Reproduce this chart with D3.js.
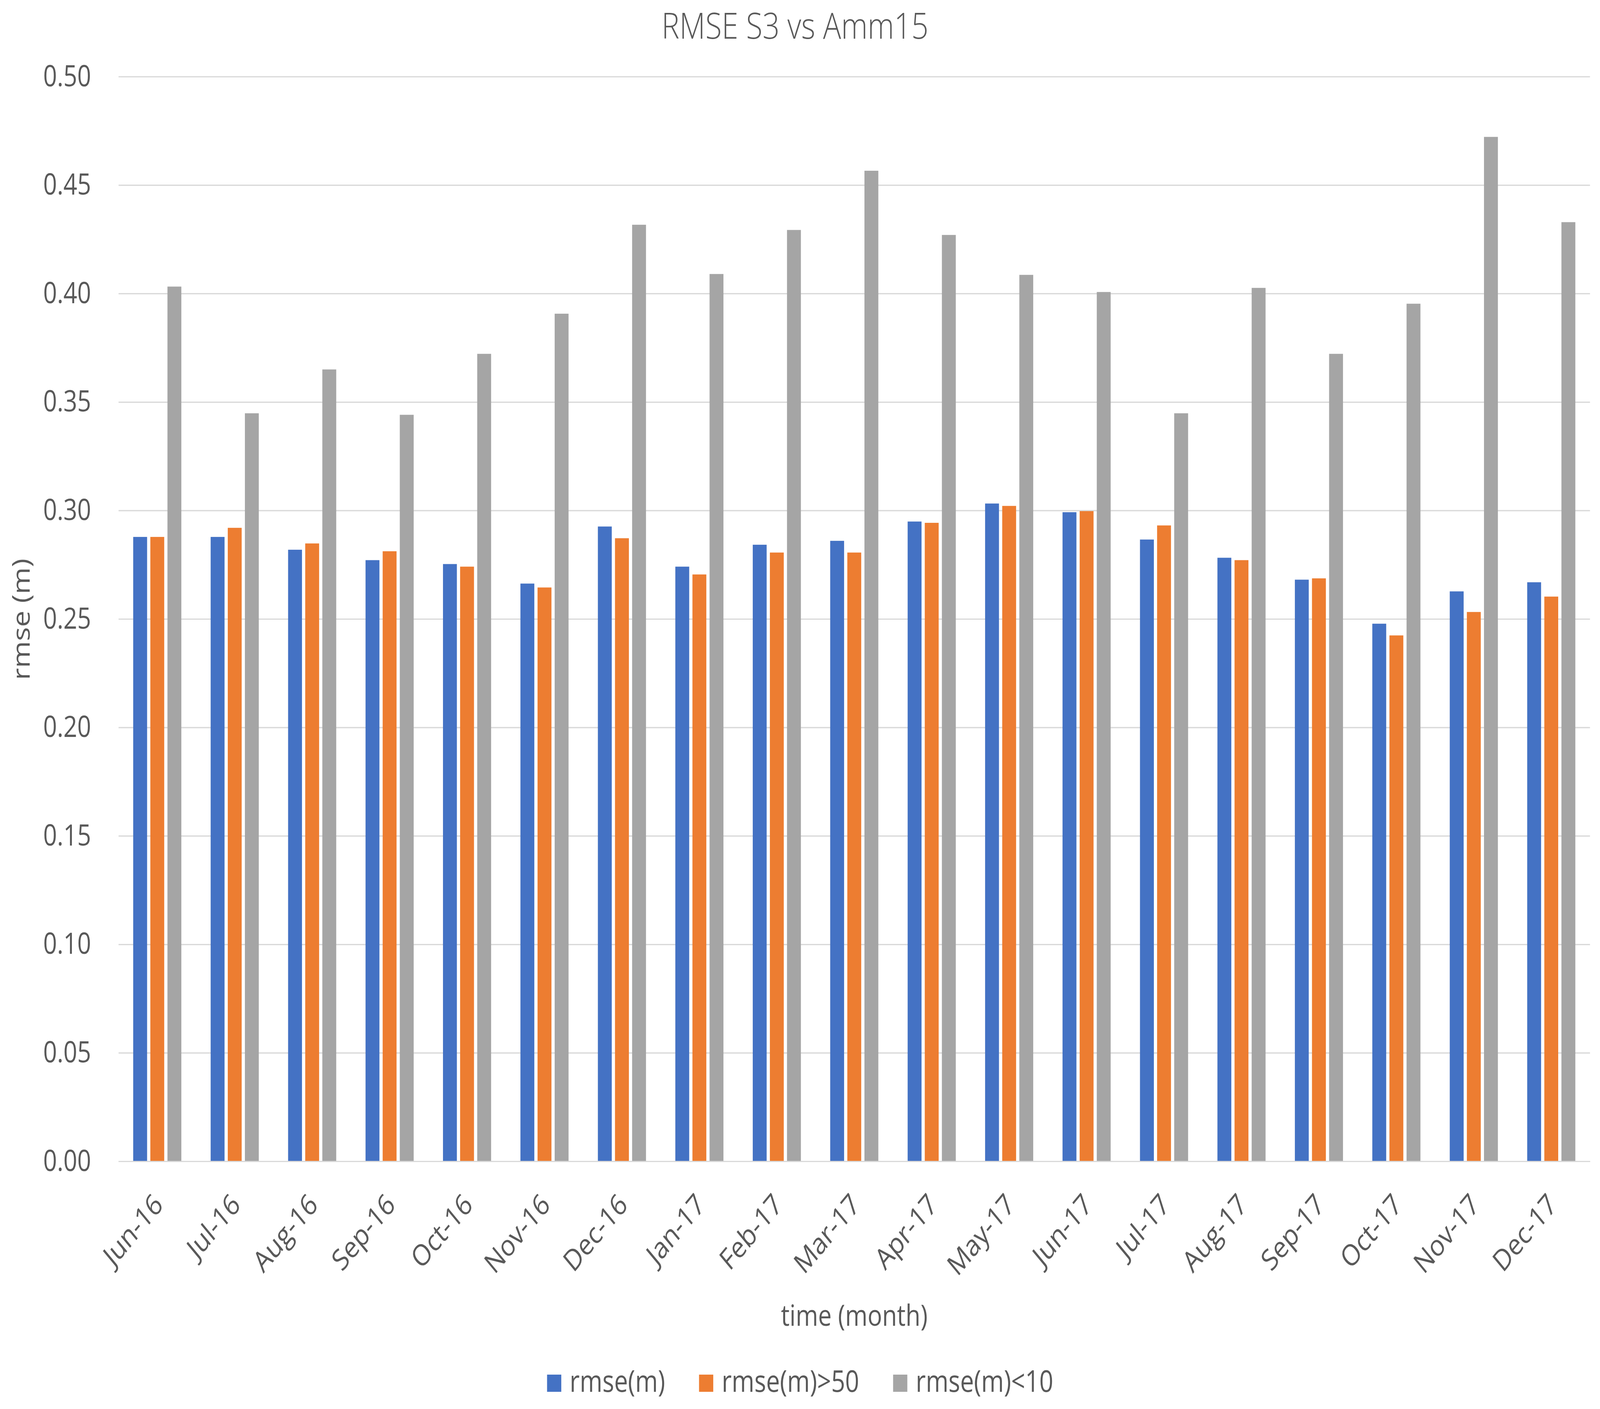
<!DOCTYPE html>
<html>
<head>
<meta charset="utf-8">
<script src="https://cdn.jsdelivr.net/npm/d3@7"></script>
<style>
  html, body { margin: 0; padding: 0; background: #fff; overflow: hidden; }
  svg { display: block; width: 100vw; height: 100vh; }
  text { font-family: "Open Sans", "Noto Sans", sans-serif; fill: #595959; }
</style>
</head>
<body>
<svg id="chart" viewBox="0 0 4953 3606" preserveAspectRatio="none"></svg>
<script>
// values
const categories = ['Jun-16', 'Jul-16', 'Aug-16', 'Sep-16', 'Oct-16', 'Nov-16', 'Dec-16',
  'Jan-17', 'Feb-17', 'Mar-17', 'Apr-17', 'May-17', 'Jun-17', 'Jul-17', 'Aug-17',
  'Sep-17', 'Oct-17', 'Nov-17', 'Dec-17'];
const seriesNames = ['rmse(m)', 'rmse(m)>50', 'rmse(m)<10'];
const rmse = [0.2878, 0.2878, 0.2819, 0.2771, 0.2753, 0.2663, 0.2926, 0.2741, 0.2842, 0.2860,
  0.2949, 0.3032, 0.2992, 0.2866, 0.2782, 0.2681, 0.2478, 0.2627, 0.2669];
const rmseOver50 = [0.2878, 0.2920, 0.2848, 0.2812, 0.2741, 0.2645, 0.2872, 0.2705, 0.2806, 0.2806,
  0.2943, 0.3021, 0.2997, 0.2931, 0.2771, 0.2687, 0.2424, 0.2532, 0.2603];
const rmseUnder10 = [0.4032, 0.3448, 0.3650, 0.3441, 0.3722, 0.3907, 0.4317, 0.4090, 0.4293, 0.4566,
  0.4270, 0.4086, 0.4007, 0.3448, 0.4026, 0.3722, 0.3953, 0.4722, 0.4329];
const yTicks = [0, 0.05, 0.10, 0.15, 0.20, 0.25, 0.30, 0.35, 0.40, 0.45, 0.50];
const colors = ['#4472C4', '#ED7D31', '#A5A5A5'];

const series = [rmse, rmseOver50, rmseUnder10];

const svg = d3.select('#chart');
const plotLeft = 367, plotRight = 4922, plotTop = 196, plotBottom = 2972;

const x0 = d3.scaleBand().domain(categories).range([plotLeft, plotRight]);
const x1 = d3.scaleBand().domain(seriesNames).range([0, 149]).paddingInner(10 / 53);
const y = d3.scaleLinear().domain([0, 0.5]).range([plotBottom, plotTop]);

// gridlines + tick labels
const yAxis = svg.append('g')
  .attr('transform', `translate(${plotLeft},0)`)
  .call(d3.axisLeft(y).tickValues(yTicks).tickFormat(d3.format('.2f'))
    .tickSize(-(plotRight - plotLeft)).tickPadding(85));
yAxis.select('.domain').remove();
yAxis.selectAll('line').attr('stroke', '#D9D9D9').attr('stroke-width', 3.2);
yAxis.selectAll('text').attr('font-size', 75).attr('fill', '#595959')
  .style('font-family', '"Open Sans", sans-serif');

// bars
const groups = svg.append('g').selectAll('g')
  .data(categories)
  .join('g')
  .attr('transform', d => `translate(${x0(d) + (x0.bandwidth() - 149) / 2},0)`);

groups.selectAll('rect')
  .data((d, i) => seriesNames.map((s, k) => ({s, k, v: series[k][i]})))
  .join('rect')
  .attr('x', d => x1(d.s))
  .attr('width', x1.bandwidth())
  .attr('y', d => y(d.v))
  .attr('height', d => y(0) - y(d.v))
  .attr('fill', d => colors[d.k]);

// category axis
const xAxis = svg.append('g')
  .attr('transform', `translate(0,${plotBottom})`)
  .call(d3.axisBottom(x0).tickSize(0).tickPadding(0));
xAxis.select('.domain').attr('stroke', '#D9D9D9').attr('stroke-width', 3.2);
xAxis.selectAll('text')
  .attr('font-size', 75)
  .attr('fill', '#595959')
  .style('font-family', '"Open Sans", sans-serif')
  .attr('text-anchor', 'end')
  .attr('dy', '0.35em')
  .attr('y', 0)
  .attr('transform', 'translate(3,97) rotate(-45)');

// title and axis titles
svg.append('text')
  .attr('x', 2461).attr('y', 99)
  .attr('text-anchor', 'middle')
  .attr('font-size', 93)
  .attr('font-weight', 300)
  .text('RMSE S3 vs Amm15');

svg.append('text')
  .attr('transform', 'translate(92,1585) rotate(-90)')
  .attr('text-anchor', 'middle')
  .attr('font-size', 75)
  .text('rmse (m)');

svg.append('text')
  .attr('x', (plotLeft + plotRight) / 2).attr('y', 3393)
  .attr('text-anchor', 'middle')
  .attr('font-size', 75)
  .text('time (month)');

// legend
const legend = svg.append('g');
const items = legend.selectAll('g').data(seriesNames).join('g');
items.append('rect')
  .attr('width', 44).attr('height', 44)
  .attr('y', 3518)
  .attr('fill', (d, i) => colors[i]);
items.append('text')
  .attr('x', 70).attr('y', 3562)
  .attr('font-size', 76)
  .text(d => d);
let pos = 0;
items.each(function() {
  const g = d3.select(this);
  g.attr('transform', `translate(${pos},0)`);
  pos += 70 + g.select('text').node().getComputedTextLength() + 105;
});
const legendWidth = pos - 105;
legend.attr('transform', `translate(${2477 - legendWidth / 2},0)`);
</script>
</body>
</html>
